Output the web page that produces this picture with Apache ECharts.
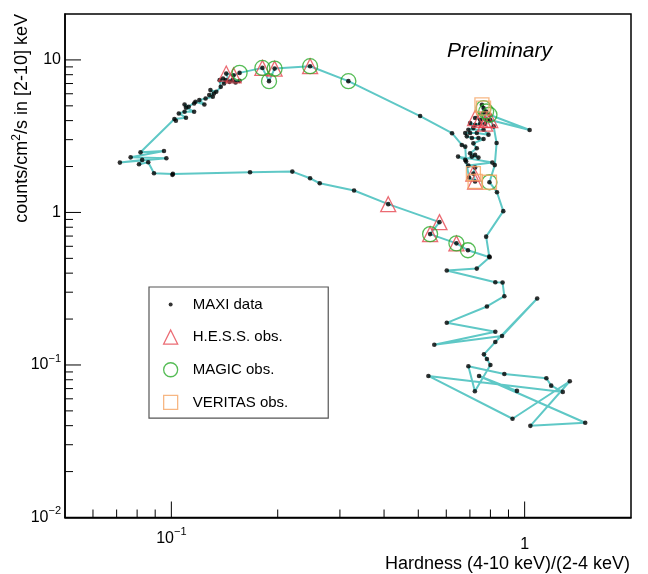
<!DOCTYPE html>
<html>
<head>
<meta charset="utf-8">
<script src="https://cdn.jsdelivr.net/npm/echarts@6/dist/echarts.min.js"></script>
<style>
  html, body { margin: 0; padding: 0; background: #fff; }
  #main { width: 648px; height: 574px; }
</style>
</head>
<body>
<div id="main"></div>
<script>
// MAXI daily points, in time order (hardness ratio, counts/cm^2/s in 2-10 keV)
const hardness = [
  0.794, 0.778, 0.870, 0.835, 0.795, 0.823, 0.833, 0.817, 0.799, 1.033,
  0.795, 0.778, 0.765, 0.757, 0.782, 0.748, 0.724, 0.765, 0.773, 0.748,
  0.724, 0.701, 0.716, 0.693, 0.765, 0.790, 0.732, 0.701, 0.679, 0.686,
  0.709, 0.740, 0.765, 0.716, 0.732, 0.701, 0.724, 0.740, 0.709, 0.679,
  0.648, 0.810, 0.693, 0.724, 0.716, 0.724, 0.696, 0.683, 0.679, 0.664,
  0.623, 0.506, 0.317, 0.247, 0.196, 0.189, 0.181, 0.156, 0.150, 0.143,
  0.146, 0.152, 0.156, 0.149, 0.1427, 0.140, 0.141, 0.137, 0.138, 0.134,
  0.129, 0.132, 0.128, 0.131, 0.125, 0.120, 0.124, 0.117, 0.116, 0.112,
  0.109, 0.110, 0.116, 0.109, 0.105, 0.110, 0.102, 0.103, 0.0818, 0.0953,
  0.0767, 0.0968, 0.0715, 0.0827, 0.0810, 0.0860, 0.0893, 0.101, 0.1007, 0.167,
  0.220, 0.247, 0.263, 0.329, 0.411, 0.574, 0.540, 0.641, 0.691, 0.796,
  0.732, 0.602, 0.826, 0.866, 0.876, 0.782, 0.602, 0.826, 0.555, 0.863,
  1.085, 0.826, 0.767, 0.782, 0.800, 0.723, 0.693, 0.876, 1.152, 1.189,
  1.282, 0.534, 0.924, 1.342, 1.038, 1.484, 0.743, 0.951
];
const rate = [
  0.514, 0.694, 1.02, 1.357, 1.578, 2.044, 2.855, 3.665, 4.035, 3.472,
  4.37, 4.59, 4.835, 5.08, 4.053, 4.053, 4.159, 4.524, 3.817, 3.817,
  3.76, 3.858, 3.578, 3.487, 3.487, 3.235, 3.318, 3.318, 3.318, 3.153,
  3.078, 3.078, 3.032, 2.838, 2.633, 2.441, 2.383, 2.288, 2.323, 2.211,
  2.323, 2.122, 2.029, 1.968, 1.798, 1.595, 1.693, 2.154, 2.700, 2.770,
  3.308, 4.285, 7.256, 9.095, 8.772, 7.256, 8.865, 8.222, 7.920, 8.136,
  7.18, 7.105, 7.29, 7.367, 7.367, 7.546, 7.0, 7.367, 6.66, 6.178,
  6.339, 6.023, 5.88, 5.731, 5.586, 5.452, 5.103, 5.314, 5.181, 4.93,
  5.103, 4.857, 4.572, 4.572, 4.457, 4.178, 4.097, 3.994, 2.478, 2.531,
  2.298, 2.264, 2.122, 2.211, 2.069, 2.132, 1.806, 1.790, 1.764, 1.834,
  1.853, 1.675, 1.554, 1.393, 1.133, 0.864, 0.721, 0.627, 0.565, 0.508,
  0.4285, 0.416, 0.349, 0.347, 0.2825, 0.2418, 0.189, 0.165, 0.1357, 0.1547,
  0.273, 0.1414, 0.1174, 0.1094, 0.100, 0.0673, 0.098, 0.0873, 0.0818, 0.0732,
  0.0666, 0.0847, 0.0444, 0.0782, 0.0399, 0.0418, 0.0847, 0.0676
];
// days (indices into the MAXI arrays) with simultaneous IACT observations
const hessDays = [8, 14, 15, 16, 18, 44, 45, 53, 54, 56, 58, 59, 104, 105, 106, 107];
const magicDays = [4, 10, 11, 12, 52, 53, 54, 55, 56, 57, 106, 107, 108];
const veritasDays = [4, 12, 13, 44, 45];

// axis ranges and ticks
const xRange = [0.05, 2];
const yRange = [0.01, 20];
const xMajorTicks = [0.1, 1];
const yMajorTicks = [0.01, 0.1, 1, 10];
const xMinorTicks = [0.06, 0.07, 0.08, 0.09, 0.2, 0.3, 0.4, 0.5, 0.6, 0.7, 0.8, 0.9];
const yMinorTicks = [0.02, 0.03, 0.04, 0.05, 0.06, 0.07, 0.08, 0.09,
                     0.2, 0.3, 0.4, 0.5, 0.6, 0.7, 0.8, 0.9,
                     2, 3, 4, 5, 6, 7, 8, 9];

const FONT = '"Liberation Sans", Arial, Helvetica, sans-serif';
const pts = hardness.map((h, i) => [h, rate[i]]);
const pick = idx => idx.map(i => [hardness[i], rate[i]]);

function powLabel(v) {
  const e = Math.log10(v);
  if (Math.abs(e - Math.round(e)) > 1e-6) return '';
  const n = Math.round(e);
  if (n === 0) return '{o|1}';
  if (n === 1) return '{o|10}';
  return '{b|10}{s|\u2212' + (-n) + '}';
}

const chart = echarts.init(document.getElementById('main'), null, { renderer: 'canvas' });

const option = {
  animation: false,
  backgroundColor: '#ffffff',
  grid: {
    left: 65, right: 17, top: 14, bottom: 56.5,
    show: true, borderColor: '#000', borderWidth: 1.5,
    backgroundColor: 'transparent',
    containLabel: false, outerBoundsMode: 'none'
  },
  xAxis: {
    type: 'log', logBase: 10, min: xRange[0], max: xRange[1],
    axisLine: { show: true, onZero: false, lineStyle: { color: '#000', width: 1.5 } },
    axisTick: { show: false },
    splitLine: { show: false },
    minorTick: { show: false },
    axisLabel: {
      show: true, margin: 9, color: '#000', fontFamily: FONT,
      formatter: powLabel,
      rich: {
        o: { fontSize: 16, lineHeight: 36, fontFamily: FONT, color: '#000' },
        b: { fontSize: 16, lineHeight: 24, fontFamily: FONT, color: '#000' },
        s: { fontSize: 11, lineHeight: 12, verticalAlign: 'top', fontFamily: FONT, color: '#000' }
      }
    }
  },
  yAxis: {
    type: 'log', logBase: 10, min: yRange[0], max: yRange[1],
    axisLine: { show: true, onZero: false, lineStyle: { color: '#000', width: 1.5 } },
    axisTick: { show: false },
    splitLine: { show: false },
    minorTick: { show: false },
    axisLabel: {
      show: true, margin: 4, color: '#000', fontFamily: FONT,
      formatter: powLabel,
      rich: {
        o: { fontSize: 16, lineHeight: 24, fontFamily: FONT, color: '#000' },
        b: { fontSize: 16, lineHeight: 24, fontFamily: FONT, color: '#000' },
        s: { fontSize: 11, lineHeight: 12, verticalAlign: 'top', fontFamily: FONT, color: '#000' }
      }
    }
  },
  legend: {
    orient: 'vertical',
    left: 149, top: 287,
    padding: [10, 40, 8, 14],
    itemGap: 17.4,
    itemWidth: 14, itemHeight: 14,
    borderColor: '#555', borderWidth: 1.2, backgroundColor: '#fff',
    selectedMode: false,
    textStyle: { fontSize: 15, lineHeight: 15, color: '#000', fontFamily: FONT, padding: [0, 0, 0, 10] },
    data: [
      { name: 'MAXI data', icon: 'path://M0,0M14,14M5,7a2,2,0,1,0,4,0a2,2,0,1,0,-4,0z',
        itemStyle: { color: '#000', borderWidth: 0 } },
      { name: 'H.E.S.S. obs.', icon: 'triangle',
        itemStyle: { color: 'rgba(0,0,0,0)', borderColor: '#e64650', borderWidth: 1.3 } },
      { name: 'MAGIC obs.', icon: 'circle',
        itemStyle: { color: 'rgba(0,0,0,0)', borderColor: '#2aab2a', borderWidth: 1.3 } },
      { name: 'VERITAS obs.', icon: 'rect',
        itemStyle: { color: 'rgba(0,0,0,0)', borderColor: '#f5a564', borderWidth: 1.3 } }
    ]
  },
  series: [
    {
      name: 'track', type: 'line', data: pts,
      showSymbol: false, symbol: 'none', silent: true, z: 1,
      lineStyle: { color: '#5fc8c6', width: 2 }
    },
    {
      name: 'MAXI data', type: 'scatter', data: pts,
      symbol: 'circle', symbolSize: 4.6, z: 3, silent: true,
      itemStyle: { color: '#000' }
    },
    {
      name: 'H.E.S.S. obs.', type: 'scatter', data: pick(hessDays),
      symbol: 'triangle', symbolSize: 15, z: 4, silent: true,
      itemStyle: { color: 'rgba(0,0,0,0)', borderColor: '#e64650', borderWidth: 1.3 }
    },
    {
      name: 'MAGIC obs.', type: 'scatter', data: pick(magicDays),
      symbol: 'circle', symbolSize: 15, z: 4, silent: true,
      itemStyle: { color: 'rgba(0,0,0,0)', borderColor: '#2aab2a', borderWidth: 1.3 }
    },
    {
      name: 'VERITAS obs.', type: 'scatter', data: pick(veritasDays),
      symbol: 'rect', symbolSize: 14, z: 4, silent: true,
      itemStyle: { color: 'rgba(0,0,0,0)', borderColor: '#f5a564', borderWidth: 1.3 }
    }
  ]
};

chart.setOption(option);

// ticks (inward, ROOT style), titles and annotation
const yBottom = chart.convertToPixel({ yAxisIndex: 0 }, yRange[0]);
const xLeft = chart.convertToPixel({ xAxisIndex: 0 }, xRange[0]);
const graphics = [];
function xTick(v, len) {
  const px = chart.convertToPixel({ xAxisIndex: 0 }, v);
  graphics.push({ type: 'line', silent: true, z: 10,
    shape: { x1: px, y1: yBottom, x2: px, y2: yBottom - len },
    style: { stroke: '#000', lineWidth: 1 } });
}
function yTick(v, len) {
  const py = chart.convertToPixel({ yAxisIndex: 0 }, v);
  graphics.push({ type: 'line', silent: true, z: 10,
    shape: { x1: xLeft, y1: py, x2: xLeft + len, y2: py },
    style: { stroke: '#000', lineWidth: 1 } });
}
xMajorTicks.forEach(v => xTick(v, 16));
xMinorTicks.forEach(v => xTick(v, 8));
yMajorTicks.forEach(v => yTick(v, 16));
yMinorTicks.forEach(v => yTick(v, 8));

graphics.push({
  type: 'text', x: 22, y: 14, rotation: Math.PI / 2, silent: true, z: 10,
  style: {
    text: 'counts/cm{s|2}/s in [2-10] keV',
    fontSize: 18, fontFamily: FONT, lineHeight: 22, fill: '#000',
    align: 'right', verticalAlign: 'middle',
    rich: { s: { fontSize: 12, lineHeight: 12, verticalAlign: 'top', fontFamily: FONT, fill: '#000' } }
  }
});
graphics.push({
  type: 'text', x: 630, y: 564, silent: true, z: 10,
  style: {
    text: 'Hardness (4-10 keV)/(2-4 keV)',
    fontSize: 18, fontFamily: FONT, fill: '#000',
    align: 'right', verticalAlign: 'middle'
  }
});
graphics.push({
  type: 'text', x: 447, y: 51, silent: true, z: 10,
  style: {
    text: 'Preliminary',
    fontSize: 21, fontStyle: 'italic', fontFamily: FONT, fill: '#000',
    align: 'left', verticalAlign: 'middle'
  }
});
chart.setOption({ graphic: graphics });
</script>
</body>
</html>
